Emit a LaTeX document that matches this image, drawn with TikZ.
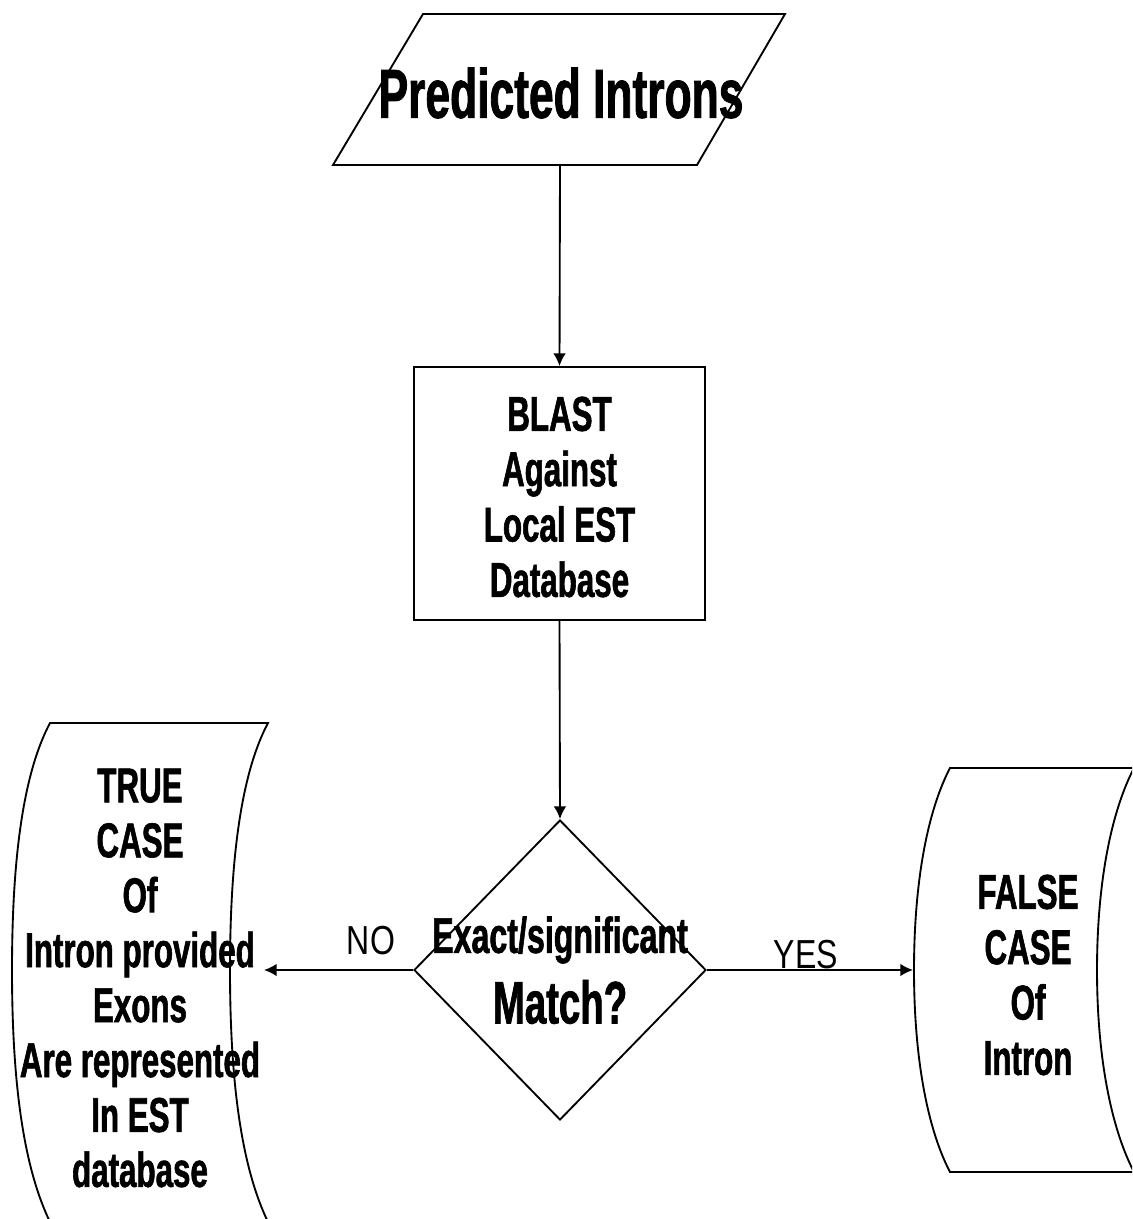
\documentclass[tikz,border=0pt]{standalone}
\usepackage{fontspec}
\setmainfont{Liberation Sans}
\newfontfamily\condfont[FakeStretch=0.64,BoldFeatures={FakeBold=1.2}]{Liberation Sans}
\newfontfamily\narrowfont[FakeStretch=0.79]{Liberation Sans}
\usepackage{tikz}
\usetikzlibrary{shapes,arrows,arrows.meta}

\tikzset{
  flowline/.style={line width=1.4pt},
  flowarrow/.style={flowline,-{Latex[length=9.5pt,width=9.5pt]}},
  process/.style={draw,flowline,fill=white,rectangle,minimum width=218.25pt,minimum height=189.75pt,inner sep=0pt},
  decision/.style={draw,flowline,fill=white,diamond,minimum width=219pt,minimum height=225pt,inner sep=0pt},
  boxtext/.style={align=center,inner sep=0pt,font=\condfont\bfseries\fontsize{36.7}{41.5}\selectfont},
  answer/.style={inner sep=0pt,font=\narrowfont\fontsize{30.4}{34}\selectfont},
}

\begin{document}
\begin{tikzpicture}[x=0.75pt,y=0.75pt,yscale=-1,xscale=1]
    \useasboundingbox (0,0) rectangle (1132,1219);
    \clip (0,0) rectangle (1132,1219);
    %Shape: Parallelogram [input]
    \draw [flowline,fill=white] (423,14) -- (785,14) -- (697,165) -- (333,165) -- cycle ;
    \coordinate (inputBot) at (560,165);
    % Text Node
    \node [boxtext,font=\condfont\bfseries\fontsize{52}{58}\selectfont] (inputText) at (561,93) {Predicted Introns};
    %Shape: Rectangle [blast]
    \node [process] (blast) at (559.5,493.5) {};
    % Text Node
    \node [boxtext] (blastText) at (559.5,497) {BLAST\\Against\\Local EST\\Database};
    %Shape: Diamond [match]
    \node [decision] (match) at (560,970) {};
    % Text Node
    \node [boxtext,font=\condfont\bfseries\fontsize{37.7}{42}\selectfont] (matchTop) at (560,940) {Exact/significant};
    % Text Node
    \node [boxtext,font=\condfont\bfseries\fontsize{45}{50}\selectfont] (matchBot) at (560,1002) {Match?};
    %Shape: Stored Data [true case]
    \draw [flowline,fill=white] (50,723) -- (268,723)
        .. controls (243,770) and (230,850) .. (230,970)
        .. controls (230,1090) and (243,1170) .. (268,1222)
        -- (50,1222)
        .. controls (25,1170) and (12,1090) .. (12,970)
        .. controls (12,850) and (25,770) .. (50,723) -- cycle ;
    \coordinate (trueIn) at (264,970);
    % Text Node
    \node [boxtext,font=\condfont\bfseries\fontsize{36.7}{41.2}\selectfont] (trueText) at (140,978) {TRUE\\CASE\\Of\\Intron provided\\Exons\\Are represented\\In EST\\database};
    %Shape: Stored Data [false case]
    \draw [flowline,fill=white] (950,768) -- (1134,768)
        .. controls (1112,810) and (1097,880) .. (1097,970)
        .. controls (1097,1060) and (1112,1130) .. (1134,1172)
        -- (950,1172)
        .. controls (928,1130) and (914,1060) .. (914,970)
        .. controls (914,880) and (928,810) .. (950,768) -- cycle ;
    \coordinate (falseIn) at (913,970);
    % Text Node
    \node [boxtext] (falseText) at (1028,975) {FALSE\\CASE\\Of\\Intron};
    %Connectors
    \draw [flowarrow] (inputBot) -- (blast.north) ;
    \draw [flowarrow] (blast.south) -- (match.north) ;
    \draw [flowarrow] (match.west) -- (trueIn) ;
    \draw [flowarrow] (match.east) -- (falseIn) ;
    % Text Node
    \node [answer] (noLabel) at (371,941) {NO};
    % Text Node
    \node [answer] (yesLabel) at (806,955) {YES};
\end{tikzpicture}
\end{document}
